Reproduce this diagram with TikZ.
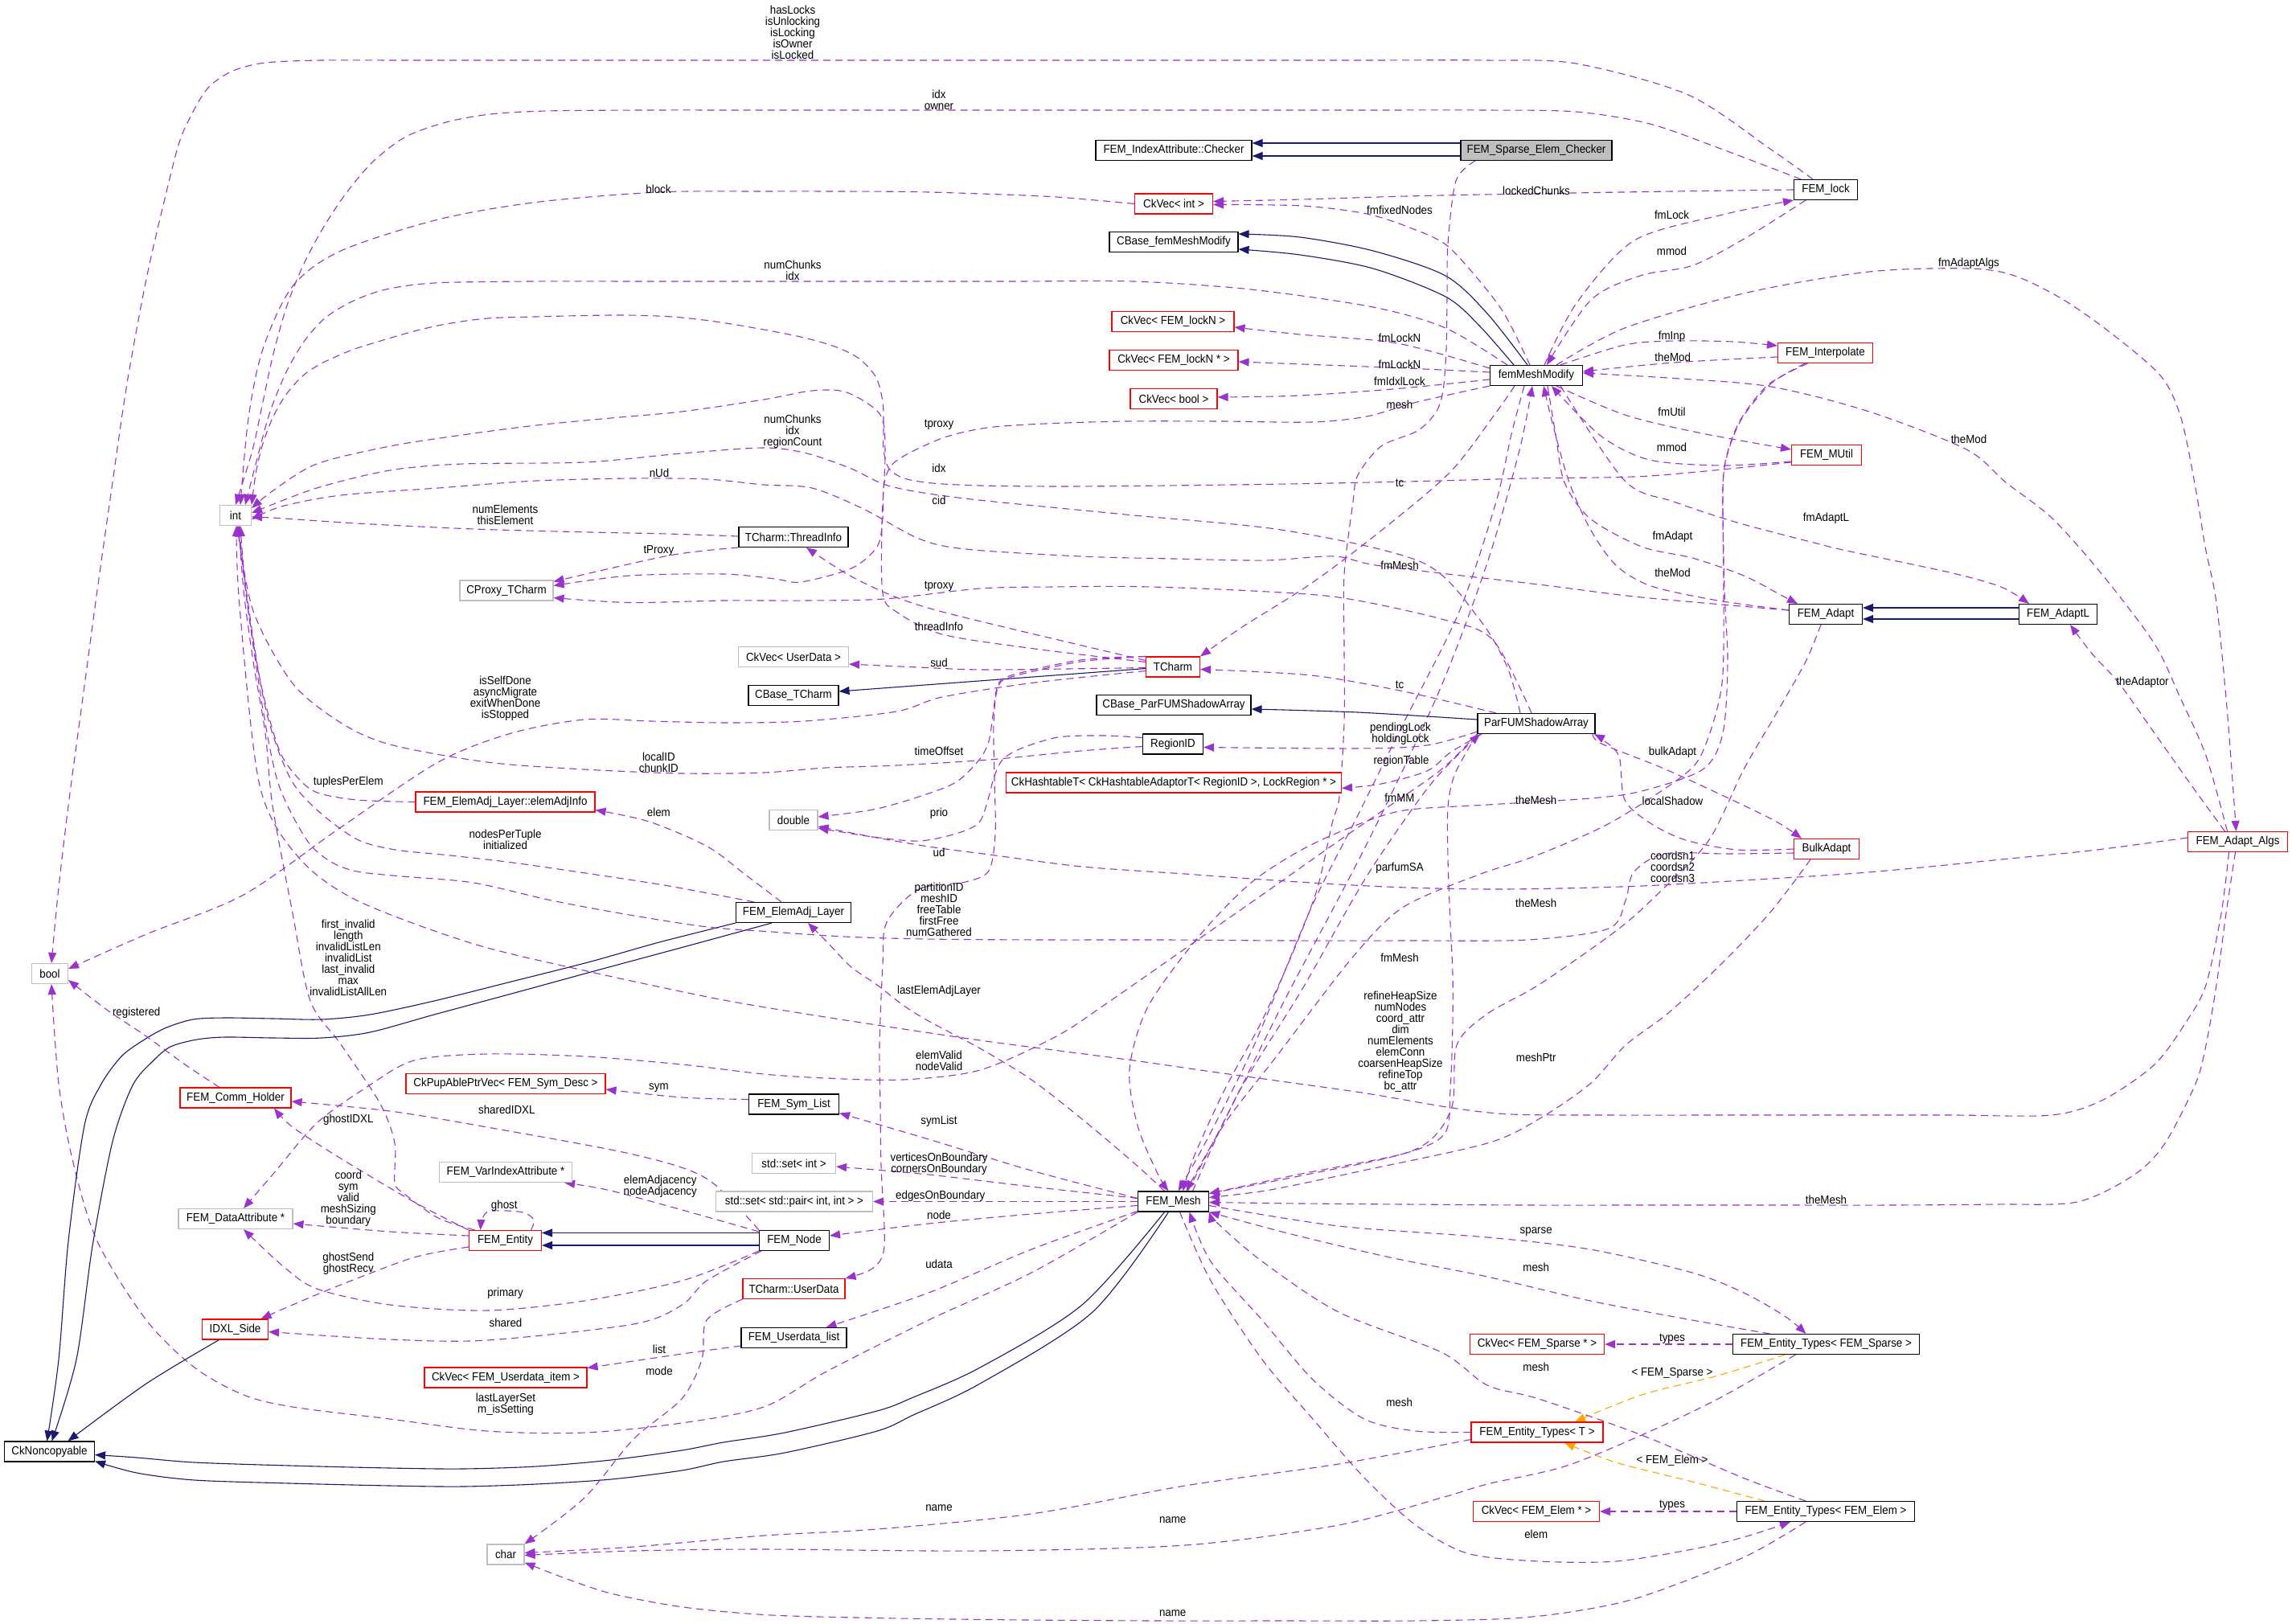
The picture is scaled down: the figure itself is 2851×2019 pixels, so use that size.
\documentclass[tikz,border=0pt]{standalone}
\usepackage{fontspec}
\newfontfamily\dxf{Liberation Sans}[FakeStretch=0.92]
\usetikzlibrary{arrows.meta}
\definecolor{pur}{HTML}{9A32CD}
\definecolor{nav}{HTML}{191970}
\definecolor{org}{HTML}{FFA500}
\definecolor{gry}{HTML}{BFBFBF}
\definecolor{rd}{HTML}{FF0000}
\pgfdeclarelayer{bg}
\pgfsetlayers{bg,main}
\newcommand\dxs{\dxf\fontsize{14.5pt}{14pt}\selectfont}
\begin{document}
\begin{tikzpicture}[x=1pt,y=-1pt,
  box/.style={draw=black, line width=1.1pt, minimum height=25pt, inner sep=0pt, fill=white, font=\dxs},
  rbox/.style={box, draw=rd},
  gbox/.style={box, draw=gry},
  lab/.style={font=\dxs, align=center, inner sep=0pt},
  mem/.style={draw=pur, line width=1.1pt, dash pattern=on 9pt off 6pt, -{Triangle[length=13pt,width=10pt]}},
  inh/.style={draw=nav, line width=1.1pt, -{Triangle[length=13pt,width=10pt]}},
  tpl/.style={draw=org, line width=1.1pt, dash pattern=on 9pt off 6pt, -{Triangle[length=13pt,width=10pt]}}]
\useasboundingbox (0,0) rectangle (2851,2019);
\begin{pgfonlayer}{bg}
\fill[white] (0,0) rectangle (2851,2019);
\end{pgfonlayer}
% ---------------- nodes ----------------
\node[box, minimum width=194pt] (chk) at (1460,187) {FEM\_IndexAttribute::Checker};
\node[box, fill=gry, minimum width=188pt] (root) at (1911,187) {FEM\_Sparse\_Elem\_Checker};
\node[rbox, minimum width=97pt] (ckint) at (1460,253.5) {CkVec< int >};
\node[box, minimum width=160pt] (cbfmm) at (1460,301) {CBase\_femMeshModify};
\node[rbox, minimum width=152pt] (cklockn) at (1459,400) {CkVec< FEM\_lockN >};
\node[rbox, minimum width=160pt] (cklocknp) at (1460,448) {CkVec< FEM\_lockN * >};
\node[rbox, minimum width=108pt] (ckbool) at (1460,496) {CkVec< bool >};
\node[rbox, minimum width=67pt] (tcharm) at (1459,829.5) {TCharm};
\node[box, minimum width=192pt] (cbpfsa) at (1460,877) {CBase\_ParFUMShadowArray};
\node[box, minimum width=75pt] (regid) at (1459,925.5) {RegionID};
\node[rbox, minimum width=417pt] (hash) at (1460,973.5) {CkHashtableT< CkHashtableAdaptorT< RegionID >, LockRegion * >};
\node[box, minimum width=88pt] (mesh) at (1459.5,1494.5) {FEM\_Mesh};
\node[box, minimum width=115pt] (fmm) at (1911,467) {femMeshModify};
\node[box, minimum width=146pt] (pfsa) at (1911,900) {ParFUMShadowArray};
\node[rbox, minimum width=167pt] (cksparse) at (1912,1672) {CkVec< FEM\_Sparse * >};
\node[rbox, minimum width=164pt] (etT) at (1912,1781.5) {FEM\_Entity\_Types< T >};
\node[rbox, minimum width=157pt] (ckelem) at (1911,1880) {CkVec< FEM\_Elem * >};
\node[box, minimum width=79pt] (lock) at (2271,236) {FEM\_lock};
\node[rbox, minimum width=118pt] (interp) at (2270.5,439) {FEM\_Interpolate};
\node[rbox, minimum width=87pt] (mutil) at (2272,566) {FEM\_MUtil};
\node[box, minimum width=91pt] (adapt) at (2271,764) {FEM\_Adapt};
\node[rbox, minimum width=81pt] (bulk) at (2272,1056) {BulkAdapt};
\node[box, minimum width=232pt] (etS) at (2271.5,1672) {FEM\_Entity\_Types< FEM\_Sparse >};
\node[box, minimum width=221pt] (etE) at (2271,1880) {FEM\_Entity\_Types< FEM\_Elem >};
\node[box, minimum width=97pt] (adaptL) at (2560,764) {FEM\_AdaptL};
\node[rbox, minimum width=124pt] (algs) at (2783.5,1047) {FEM\_Adapt\_Algs};
\node[box, minimum width=136pt] (tinfo) at (987,668) {TCharm::ThreadInfo};
\node[gbox, minimum width=137pt] (ckud) at (987,817) {CkVec< UserData >};
\node[box, minimum width=112pt] (cbtc) at (987,865) {CBase\_TCharm};
\node[gbox, minimum width=60pt] (dbl) at (987,1020) {double};
\node[box, minimum width=143pt] (eal) at (987,1135) {FEM\_ElemAdj\_Layer};
\node[box, minimum width=112pt] (symlist) at (987.5,1373.5) {FEM\_Sym\_List};
\node[gbox, minimum width=104pt] (setint) at (987.5,1447) {std::set< int >};
\node[gbox, minimum width=195pt] (setpair) at (988,1494.5) {std::set< std::pair< int, int > >};
\node[box, minimum width=87pt] (fnode) at (988,1543) {FEM\_Node};
\node[rbox, minimum width=127pt] (tud) at (987.5,1603) {TCharm::UserData};
\node[box, minimum width=131pt] (udl) at (987.5,1664) {FEM\_Userdata\_list};
\node[gbox, minimum width=116pt] (cproxy) at (630,734.5) {CProxy\_TCharm};
\node[rbox, minimum width=223pt] (eai) at (628.5,997.5) {FEM\_ElemAdj\_Layer::elemAdjInfo};
\node[rbox, minimum width=248pt] (pup) at (629,1348) {CkPupAblePtrVec< FEM\_Sym\_Desc >};
\node[gbox, minimum width=165pt] (varidx) at (629,1458) {FEM\_VarIndexAttribute *};
\node[rbox, minimum width=90pt] (entity) at (628.5,1543) {FEM\_Entity};
\node[rbox, minimum width=202pt] (ckudi) at (629,1713.5) {CkVec< FEM\_Userdata\_item >};
\node[gbox, minimum width=46pt] (chr) at (629,1933.5) {char};
\node[gbox, minimum width=39pt] (int) at (293,641) {int};
\node[rbox, minimum width=138pt] (comm) at (293,1365.5) {FEM\_Comm\_Holder};
\node[gbox, minimum width=142pt] (dattr) at (293,1516) {FEM\_DataAttribute *};
\node[rbox, minimum width=82pt] (idxl) at (292.5,1653.5) {IDXL\_Side};
\node[gbox, minimum width=45pt] (bool) at (62,1211) {bool};
\node[box, minimum width=112pt] (nonc) at (61.5,1805.5) {CkNoncopyable};
% ---------------- labels ----------------
\node[lab] (t1) at (986,40.5) {hasLocks\\isUnlocking\\isLocking\\isOwner\\isLocked};
\node[lab] (t2) at (1168,124) {idx\\owner};
\node[lab] (t3) at (1911,237) {lockedChunks};
\node[lab] (t4) at (1741,261) {fmfixedNodes};
\node[lab] (t5) at (819,235) {block};
\node[lab] (t6) at (986,336.5) {numChunks\\idx};
\node[lab] (t7) at (1741,420) {fmLockN};
\node[lab] (t8) at (1741,453) {fmLockN};
\node[lab] (t9) at (1741,474.5) {fmIdxlLock};
\node[lab] (t10) at (1741,503) {mesh};
\node[lab] (t11) at (1168,528) {tproxy};
\node[lab] (t12) at (986,537) {numChunks\\idx\\regionCount};
\node[lab] (t13) at (1168,582.5) {idx};
\node[lab] (t14) at (820,588) {nUd};
\node[lab] (t15) at (1741,600.5) {tc};
\node[lab] (t16) at (1168,622.7) {cid};
\node[lab] (t17) at (628.5,640.5) {numElements\\thisElement};
\node[lab] (t18) at (819.4,685) {tProxy};
\node[lab] (t19) at (1741,703) {fmMesh};
\node[lab] (t20) at (1168,729) {tproxy};
\node[lab] (t21) at (1168,779.5) {threadInfo};
\node[lab] (t22) at (1168,824) {sud};
\node[lab] (t23) at (1741,852) {tc};
\node[lab] (t24) at (628.5,868.5) {isSelfDone\\asyncMigrate\\exitWhenDone\\isStopped};
\node[lab] (t25) at (1742,913) {pendingLock\\holdingLock};
\node[lab] (t26) at (1168,934.4) {timeOffset};
\node[lab] (t27) at (819.4,948.5) {localID\\chunkID};
\node[lab] (t28) at (1743,947) {regionTable};
\node[lab] (t29) at (433.3,972.3) {tuplesPerElem};
\node[lab] (t30) at (1741,992.4) {fmMM};
\node[lab] (t31) at (819.4,1010.7) {elem};
\node[lab] (t32) at (1168,1011.6) {prio};
\node[lab] (t33) at (628.5,1044.4) {nodesPerTuple\\initialized};
\node[lab] (t34) at (1168,1060.7) {ud};
\node[lab] (t35) at (1741,1079.5) {parfumSA};
\node[lab] (t36) at (1168,1131.5) {partitionID\\meshID\\freeTable\\firstFree\\numGathered};
\node[lab] (t37) at (433.3,1191.5) {first\_invalid\\length\\invalidListLen\\invalidList\\last\_invalid\\max\\invalidListAllLen};
\node[lab] (t38) at (1741,1191.5) {fmMesh};
\node[lab] (t39) at (1168,1232.6) {lastElemAdjLayer};
\node[lab] (t40) at (1742,1296) {refineHeapSize\\numNodes\\coord\_attr\\dim\\numElements\\elemConn\\coarsenHeapSize\\refineTop\\bc\_attr};
\node[lab] (t41) at (169.7,1259.8) {registered};
\node[lab] (t42) at (1168,1319.7) {elemValid\\nodeValid};
\node[lab] (t43) at (819.4,1353) {sym};
\node[lab] (t44) at (630.3,1380.5) {sharedIDXL};
\node[lab] (t45) at (433.3,1392.7) {ghostIDXL};
\node[lab] (t46) at (1168,1394.7) {symList};
\node[lab] (t47) at (1168,1447.3) {verticesOnBoundary\\cornersOnBoundary};
\node[lab] (t48) at (433.3,1490.6) {coord\\sym\\valid\\meshSizing\\boundary};
\node[lab] (t49) at (821.2,1475.6) {elemAdjacency\\nodeAdjacency};
\node[lab] (t50) at (1169.8,1487.4) {edgesOnBoundary};
\node[lab] (t51) at (627.3,1499.6) {ghost};
\node[lab] (t52) at (1168,1511.4) {node};
\node[lab] (t53) at (433.3,1571.5) {ghostSend\\ghostRecv};
\node[lab] (t54) at (1168,1572) {udata};
\node[lab] (t55) at (628.5,1609) {primary};
\node[lab] (t56) at (629,1644.8) {shared};
\node[lab] (t57) at (820,1678.6) {list};
\node[lab] (t58) at (820,1705) {mode};
\node[lab] (t59) at (629,1746.6) {lastLayerSet\\m\_isSetting};
\node[lab] (t60) at (1168,1875.8) {name};
\node[lab] (t61) at (1458.7,1891) {name};
\node[lab] (t62) at (1458.7,2006.7) {name};
\node[lab] (t63) at (1740.6,1744.4) {mesh};
\node[lab] (t64) at (2079.5,267.6) {fmLock};
\node[lab] (t65) at (2079.5,312.7) {mmod};
\node[lab] (t66) at (2449,327.8) {fmAdaptAlgs};
\node[lab] (t67) at (2079.5,419) {fmInp};
\node[lab] (t68) at (2080.7,444.5) {theMod};
\node[lab] (t69) at (2079.5,512.6) {fmUtil};
\node[lab] (t70) at (2449,546.4) {theMod};
\node[lab] (t71) at (2079.5,556.4) {mmod};
\node[lab] (t72) at (2271.5,644.6) {fmAdaptL};
\node[lab] (t73) at (2080.5,668) {fmAdapt};
\node[lab] (t74) at (2080.5,712.5) {theMod};
\node[lab] (t75) at (2665,848.7) {theAdaptor};
\node[lab] (t76) at (2080.5,935.7) {bulkAdapt};
\node[lab] (t77) at (1910.7,995.5) {theMesh};
\node[lab] (t78) at (2080.5,996.4) {localShadow};
\node[lab] (t79) at (2080.5,1078) {coordsn1\\coordsn2\\coordsn3};
\node[lab] (t80) at (1910.7,1123.7) {theMesh};
\node[lab] (t81) at (1910.7,1315) {meshPtr};
\node[lab] (t82) at (2271.5,1492) {theMesh};
\node[lab] (t83) at (1910.7,1532) {sparse};
\node[lab] (t84) at (1910.7,1576.6) {mesh};
\node[lab] (t85) at (2080,1665) {types};
\node[lab] (t86) at (2080,1707.6) {< FEM\_Sparse >};
\node[lab] (t87) at (1910.7,1700.7) {mesh};
\node[lab] (t88) at (2080,1816.5) {< FEM\_Elem >};
\node[lab] (t89) at (2080,1872) {types};
\node[lab] (t90) at (1910.7,1908.6) {elem};
% ---------------- edges ----------------
\begin{pgfonlayer}{bg}
\draw[mem] plot[smooth] coordinates {([xshift=-16pt]lock.north) (2203,186) (2100,118) (1960,79) (1850,75) (1700,75) (1550,75) (1400,75) (1250,75) (1100,75) (950,75) (800,75) (650,75) (500,75) (400,75) (330,78) (290,88) (262,106) (245,130) (224,174) (206,243) (182,347) (158,477) (139,607) (121,734) (103,868) (85,1002) (72,1113) ([xshift=2pt]bool.north)};
\draw[mem] plot[smooth] coordinates {([xshift=-31pt]lock.north) (2143,186) (2052,154) (1960,139) (1850,137) (1700,137) (1550,137) (1400,137) (1250,137) (1100,137) (950,137) (800,137) (680,138) (610,142) (555,152) (505,170) (465,200) (433,237) (404,280) (378,328) (357,380) (340,440) (327,500) (314,560) (int.north)};
\draw[inh] ([yshift=9pt]root.west) -- ([yshift=9pt]chk.east);
\draw[inh] ([yshift=-7pt]root.west) -- ([yshift=-7pt]chk.east);
\draw[mem] plot[smooth] coordinates {(lock.west) (2080,238) (1900,241) (1750,244) (1620,248) ([yshift=3pt]ckint.east)};
\draw[mem] plot[smooth] coordinates {([xshift=-8pt]fmm.north) (1871,390) (1835,343) (1798,304) (1756,284) (1700,266) (1620,256) ([yshift=-1pt]ckint.east)};
\draw[mem] plot[smooth] coordinates {(ckint.west) (1314,245) (1220,241) (1132,238.5) (1040,238) (950,238) (819,239) (667,251.5) (545,273) (424,312) (364,356) (327,434) (309,520) ([xshift=6pt]int.north)};
\draw[inh] plot[smooth] coordinates {([xshift=-11pt]fmm.north) (1850,390) (1798,343) (1708,312) (1617,295) ([yshift=10pt]cbfmm.east)};
\draw[inh] plot[smooth] coordinates {([xshift=-28pt]fmm.north) (1840,405) (1798,369) (1708,334) (1617,317) ([yshift=-9pt]cbfmm.east)};
\draw[mem] plot[smooth] coordinates {([xshift=-36pt]fmm.north) (1798,408) (1708,382) (1556,360) (1410,350) (1260,350) (1110,350) (960,350) (810,350) (660,350) (540,352) (480,360) (440,374) (405,395) (378,425) (355,465) (335,515) (320,570) ([xshift=12pt]int.north)};
\draw[mem] plot[smooth] coordinates {([yshift=9pt]fmm.west) (1738,427) (1617,416) ([yshift=-7pt]cklockn.east)};
\draw[mem] plot[smooth] coordinates {([yshift=4pt]fmm.west) (1738,457.5) ([yshift=-2pt]cklocknp.east)};
\draw[mem] plot[smooth] coordinates {([yshift=-5pt]fmm.west) (1738,483.5) (1617,492) ([yshift=2pt]ckbool.east)};
\draw[mem] plot[smooth] coordinates {([xshift=10pt]fmm.north) (1961,377) (2033,299) (2143,267) (lock.south west)};
\draw[mem] plot[smooth] coordinates {([xshift=-25pt]lock.south) (2173,295) (2106,330) (2040,343) (1979,373) ([xshift=13pt]fmm.north)};
\draw[mem] plot[smooth] coordinates {([xshift=25pt]fmm.north) (2021,408) (2173,364) (2325,338) (2449,334) (2506,343) (2567,373) (2628,416) (2688,468) (2713,520) (2731,607) (2743,680) (2757,750) (2770,880) ([xshift=-2pt]algs.north)};
\draw[mem] plot[smooth] coordinates {([xshift=-13pt]algs.north) (2744,940) (2712,868) (2680,801) (2616,716) (2553,645) (2495,600) (2446,559) (2325,512) (2203,481) (2082,470.5) ([yshift=3pt]fmm.east)};
\draw[mem] plot[smooth] coordinates {([xshift=30pt]fmm.north) (2021,429) (2082,424) (2155,425) ([yshift=9pt]interp.west)};
\draw[mem] plot[smooth] coordinates {([yshift=-5pt]interp.west) (2082,451) ([yshift=5pt]fmm.east)};
\draw[mem] plot[smooth] coordinates {([xshift=25pt]fmm.south) (2021,516) (2112,538) ([yshift=7pt]mutil.west)};
\draw[mem] plot[smooth] coordinates {([yshift=-8pt]mutil.west) (2143,579) (2052,572) (1991,542) ([xshift=19pt]fmm.south)};
\draw[mem] plot[smooth] coordinates {([yshift=-9pt]mutil.west) (2052,592) (1900,595) (1750,599) (1600,602) (1450,604) (1320,605) (1220,604) (1160,601) (1125,595) (1106,583) (1099,560) (1099,530) (1098,500) (1090,470) (1070,447) (1041,432) (1000,420) (950,410) (890,400) (836,394) (780,392) (727,392.5) (666,394) (606,396) (555,403) (515,412) (470,425) (436,436) (400,452) (376,468) (355,492) (339,520) (326,555) (318,590) (int.north east)};
\draw[mem] plot[smooth] coordinates {([xshift=-76pt]root.south) (1811,225) (1801,304) (1800,370) (1799,434) (1795,486) (1786,513) (1763,536) (1718,555) (1689,591) (1683,624) (1672,715) (1672,807) (1672,899) (1666,991) (1657,1024) (1638,1107) (1606,1190) (1568,1273) (1523,1356) (1485,1439) ([xshift=12pt]mesh.north)};
\draw[mem] plot[smooth] coordinates {(fmm.south west) (1763,500) (1700,518) (1632,525) (1520,524) (1400,524) (1300,527) (1228,532) (1172,545) (1115,573) (1100,600) (1098,645) (1091,680) (1059,707) (996,724) (964,720) (900,714) (783,716) ([yshift=6pt]cproxy.east)};
\draw[mem] plot[smooth] coordinates {([xshift=-27pt]fmm.south) (1861,513) (1804,587) (1718,660) (1632,725) (1545,780) (tcharm.north east)};
\draw[mem] plot[smooth] coordinates {([xshift=-15pt]fmm.south) (1880,540) (1861,624) (1815,761) (1746,899) (1689,1014) (1631,1129) (1560,1300) (1500,1420) ([xshift=6pt]mesh.north)};
\draw[mem] plot[smooth] coordinates {([xshift=18pt]mesh.north) (1530,1380) (1600,1240) (1700,1050) (1790,860) (1850,700) (1890,560) ([xshift=-5pt]fmm.south)};
\draw[mem] plot[smooth] coordinates {([xshift=14pt]fmm.south) (1935,540) (1946,600) (1978,645) (2042,680) (2105,694) (2169,716) (2215,740) ([xshift=-35pt]adapt.north)};
\draw[mem] plot[smooth] coordinates {([yshift=5pt]adapt.west) (2137,747) (2054,729) (2010,703) (1978,658) (1952,600) (1932,530) ([xshift=9pt]fmm.south)};
\draw[mem] plot[smooth] coordinates {([xshift=30pt]fmm.south) (2021,598) (2082,624) (2161,650) (2264,677) (2297,685) (2425,712) (2489,730) ([xshift=-36pt]adaptL.north)};
\draw[inh] ([yshift=8pt]adaptL.west) -- ([yshift=8pt]adapt.east);
\draw[inh] ([yshift=-6pt]adaptL.west) -- ([yshift=-6pt]adapt.east);
\draw[mem] plot[smooth] coordinates {([xshift=-16pt]algs.north) (2731,984) (2680,912) (2636,850) (2603,814) ([xshift=15pt]adaptL.south)};
\draw[mem] plot[smooth] coordinates {([xshift=-6pt]adapt.south) (2246,823) (2208,890) (2169,957) (2125,1046) (2061,1113) (2010,1158) (1914,1225) (1850,1261) (1812,1300) (1805,1380) (1760,1430) (1620,1462) ([yshift=10pt]mesh.east)};
\draw[mem] plot[smooth] coordinates {([xshift=-25pt]interp.south) (2203,477) (2167,520) (2149,564) (2143,607) (2144,734) (2142,850) (2122,925) (2097,962) (2002,1024) (1906,1066) (1842,1087) (1746,1128) (1683,1190) (1587,1315) (1523,1398) ([xshift=16pt]mesh.north)};
\draw[mem] plot[smooth] coordinates {([xshift=-22pt]interp.south) (2200,478) (2165,522) (2148,566) (2143,610) (2145,734) (2149,823) (2143,912) (2118,957) (2042,984) (1978,993) (1850,1001) (1746,1008) (1683,1028) (1619,1057) (1555,1099) (1491,1165) (1428,1252) (1405,1330) (1415,1400) (1440,1460) ([xshift=-6pt]mesh.north)};
\draw[mem] plot[smooth] coordinates {([xshift=-20pt]bulk.south) (2201,1136) (2137,1203) (2074,1261) (2022,1300) (1978,1348) (1914,1392) (1850,1422) (1700,1455) (1580,1480) ([yshift=5pt]mesh.east)};
\draw[mem] plot[smooth] coordinates {(pfsa.south west) (1810,962) (1801,1004) (1801,1066) (1804,1149) (1807,1211) (1807,1273) (1804,1356) (1797,1410) (1746,1435) (1619,1460) ([yshift=10pt]mesh.east)};
\draw[mem] plot[smooth] coordinates {([xshift=-3pt]algs.south) (2769,1136) (2757,1225) (2744,1300) (2731,1348) (2693,1422) (2655,1461) (2584,1495) (2480,1498) (2350,1499) (2200,1499) (2050,1499) (1900,1499) (1750,1498) (1620,1497) ([yshift=-1pt]mesh.east)};
\draw[mem] plot[smooth] coordinates {([xshift=-70pt]etS.north) (2105,1642) (1978,1618) (1850,1588) (1729,1564) (1602,1534) (mesh.south east)};
\draw[mem] plot[smooth] coordinates {([xshift=-25pt]etE.north) (2169,1838.5) (2042,1785) (1914,1740) (1850,1723) (1793,1682) (1665,1632) (1570,1569) (1515,1522) (mesh.south east)};
\draw[mem] plot[smooth] coordinates {(etT.west) (1761,1780) (1697,1765) (1633,1716) (1570,1642) (1506,1569) ([xshift=20pt]mesh.south)};
\draw[mem] plot[smooth] coordinates {([xshift=24pt]mesh.north) (1540,1360) (1620,1230) (1700,1090) (1780,975) ([xshift=-70pt]pfsa.south)};
\draw[mem] plot[smooth] coordinates {([xshift=-11pt]mesh.north) (1410,1446) (1346,1392) (1283,1343) (1219,1304) (1155,1270) (1123,1250) (1091,1225) (1059,1203) (1028,1171) ([xshift=18pt]eal.south)};
\draw[mem] plot[smooth] coordinates {([yshift=4pt]mesh.west) (1283,1456) (1155,1417) ([yshift=-11pt]symlist.east)};
\draw[mem] plot[smooth] coordinates {([yshift=4pt]mesh.west) (1283,1476) (1155,1461) ([yshift=-4pt]setint.east)};
\draw[mem] (mesh.west) -- (setpair.east);
\draw[mem] plot[smooth] coordinates {([yshift=-5pt]mesh.west) (1283,1510) (1155,1522) ([yshift=6pt]fnode.east)};
\draw[mem] plot[smooth] coordinates {([yshift=-12pt]mesh.west) (1283,1554) (1155,1608) ([xshift=40pt]udl.north)};
\draw[mem] plot[smooth] coordinates {(mesh.south west) (1283,1583) (1155,1642) (1028,1706) (950,1750) (848,1770) (727,1782) (606,1780) (485,1765) (364,1750) (303,1735) (242,1701) (182,1642) (121,1544) (91,1446) (73,1348) ([xshift=2pt]bool.south)};
\draw[inh] plot[smooth] coordinates {([xshift=-11pt]mesh.south) (1346,1623) (1219,1701) (1136,1738) (1091,1755) (976,1782) (900,1794) (848,1804) (760,1816) (667,1824) (575,1827) (485,1826) (360,1823) (242,1819) (170,1813) ([yshift=-4pt]nonc.east)};
\draw[inh] plot[smooth] coordinates {([xshift=-6pt]mesh.south) (1359,1632) (1219,1721) (1136,1760) (1091,1780) (976,1807) (900,1818) (848,1829) (760,1840) (667,1846) (575,1849) (485,1848) (360,1845) (242,1841) (170,1832) ([yshift=-12pt]nonc.east)};
\draw[mem] plot[smooth] coordinates {([xshift=8pt]mesh.south) (1506,1593) (1570,1691) (1633,1765) (1697,1838) (1761,1897) (1825,1932) (1914,1942) (2010,1942) (2105,1927) (2169,1912) ([xshift=-44pt]etE.south)};
\draw[mem] plot[smooth] coordinates {([yshift=-5pt]mesh.east) (1665,1525) (1850,1539) (1978,1554) (2105,1583) (2169,1608) (2220,1637) ([xshift=-25pt]etS.north)};
\draw[mem] (etS.west) -- (cksparse.east);
\draw[mem] (etE.west) -- (ckelem.east);
\draw[tpl] plot[smooth] coordinates {([xshift=-51pt]etS.south) (2137,1711) (2042,1735) ([xshift=47pt]etT.north)};
\draw[tpl] plot[smooth] coordinates {([xshift=-76pt]etE.north) (2105,1843) (2010,1819) ([xshift=34pt]etT.south)};
\draw[mem] plot[smooth] coordinates {([yshift=-9pt]etT.west) (1665,1821) (1474,1848) (1283,1883) (1091,1902) (950,1910) (788,1924) ([yshift=2pt]chr.east)};
\draw[mem] plot[smooth] coordinates {([xshift=-38pt]etS.south) (2137,1740) (2042,1785) (1946,1824) (1850,1846) (1793,1863) (1665,1897) (1474,1922) (1219,1929) (950,1927) (788,1929) ([yshift=-1pt]chr.east)};
\draw[mem] plot[smooth] coordinates {([xshift=-25pt]etE.south) (2169,1937) (2042,1986) (1960,2004) (1880,2013) (1760,2016) (1600,2016) (1440,2016) (1280,2015) (1120,2013) (960,2009) (850,1999) (760,1982) (700,1962) ([yshift=-10pt]chr.east)};
\draw[mem] plot[smooth] coordinates {(tud.south west) (879,1642) (873,1691) (848,1740) (788,1790) (727,1863) (chr.north east)};
\draw[mem] plot[smooth] coordinates {([yshift=-10pt]udl.west) (848.5,1684) ([yshift=12pt]ckudi.east)};
\draw[mem] plot[smooth] coordinates {([yshift=6pt]symlist.west) (848.5,1365) ([yshift=-7pt]pup.east)};
\draw[inh] ([yshift=9.5pt]fnode.west) -- ([yshift=9.5pt]entity.east);
\draw[inh] ([yshift=-6pt]fnode.west) -- ([yshift=-6pt]entity.east);
\draw[mem] plot[smooth] coordinates {(fnode.north west) (879,1466) (788,1436) (606,1402) (485,1382) ([yshift=-4.5pt]comm.east)};
\draw[mem] plot[smooth] coordinates {([yshift=-2pt]fnode.north west) (848.5,1505) (757.6,1480.5) ([xshift=-10pt]varidx.south east)};
\draw[mem] plot[smooth] coordinates {(fnode.south west) (848.5,1593) (727,1618) (606,1630) (485,1623) (394,1603) (351,1574) ([xshift=10pt]dattr.south)};
\draw[mem] plot[smooth] coordinates {([xshift=3pt]fnode.south west) (879,1593) (848.5,1623) (788,1647) (606,1667) (485,1666) ([yshift=-3pt]idxl.east)};
\draw[mem] plot[smooth] coordinates {(entity.north west) (515,1495) (424,1441) (364,1402) ([xshift=48pt]comm.south)};
\draw[mem] plot[smooth] coordinates {([yshift=6pt]entity.west) (485,1532) ([yshift=-6pt]dattr.east)};
\draw[mem] plot[smooth] coordinates {([xshift=32pt]entity.north) (664,1517) (648,1507.5) (606,1507.5) ([xshift=-31pt]entity.north)};
\draw[mem] plot[smooth] coordinates {([yshift=-8pt]entity.west) (515,1564) (424,1598) (364,1623) ([xshift=32pt]idxl.north)};
\draw[mem] plot[smooth] coordinates {([xshift=-38pt]entity.north) (545,1515) (503,1485) (491,1471) (491,1422) (473,1373) (424,1299) (386,1245) (364,1136) (339,1002) (330,912) (315,823) (303,734) ([xshift=4pt]int.south)};
\draw[inh] plot[smooth] coordinates {([xshift=-20pt]idxl.south) (182,1721) ([xshift=23pt]nonc.north)};
\draw[inh] plot[smooth] coordinates {(eal.south west) (820,1172) (735,1196) (640,1220) (540,1245) (460,1262) (400,1268) (340,1267) (280,1266) (240,1268) (205,1279) (175,1296) (150,1315) (125,1350) (105,1400) (85,1544) (73,1691) ([xshift=-3pt]nonc.north)};
\draw[inh] plot[smooth] coordinates {([xshift=-27pt]eal.south) (850,1178) (735,1209) (640,1235) (540,1262) (460,1284) (400,1291) (340,1291) (280,1290) (245,1293) (212,1302) (190,1320) (165,1350) (140,1420) (115,1550) (95,1691) ([xshift=3pt]nonc.north)};
\draw[mem] plot[smooth] coordinates {([xshift=-20pt]comm.north) (230,1324) (182,1289) (133,1256) ([yshift=-8pt]bool.east)};
\draw[mem] plot[smooth] coordinates {([xshift=-15pt]eal.north) (928.6,1089) (880,1053) (807.5,1022) ([yshift=-10pt]eai.east)};
\draw[mem] plot[smooth] coordinates {(eai.west) (444,995) (395,986) (371,968) (347,932) (323,843) (303,709) ([xshift=5pt]int.south)};
\draw[mem] plot[smooth] coordinates {([xshift=-49pt]eal.north) (832,1102) (735,1087) (638,1073) (560,1064) (492,1057) (444,1044) (395,1008) (361,968) (332,888) (308,754) ([xshift=6pt]int.south)};
\draw[mem] plot[smooth] coordinates {([yshift=1pt]tinfo.west) (830,664) (735,662) (589,658) (444,651) (347,644.5) ([yshift=-2pt]int.east)};
\draw[mem] plot[smooth] coordinates {(tinfo.south west) (832,691) ([yshift=11pt]cproxy.east)};
\draw[mem] plot[smooth] coordinates {([yshift=8pt]tcharm.west) (1287,789) (1172,761) (1115,743) (1057,716) ([xshift=16pt]tinfo.south)};
\draw[mem] plot[smooth] coordinates {([yshift=-1pt]tcharm.west) (1230,833) (1143,830) ([yshift=-9pt]ckud.east)};
\draw[inh] ([yshift=-2pt]tcharm.west) -- ([yshift=5pt]cbtc.east);
\draw[mem] plot[smooth] coordinates {([yshift=-5pt]tcharm.west) (1287,849) (1172,867) (1115,885) (1000,897) (900,899) (810,897) (727,895) (636,912) (545,948) (424,1029) (303,1113) (182,1162) ([yshift=6pt]bool.east)};
\draw[mem] plot[smooth] coordinates {(tcharm.north west) (1344,821) (1258,840) (1241,853) (1235,890) (1230,922) (1218,945) (1189,973) (1143,991) (1086,1007) ([yshift=4pt]dbl.east)};
\draw[mem] plot[smooth] coordinates {(tcharm.north west) (1344,823) (1258,842) (1241,856) (1236,900) (1237,970) (1238,1037) (1230,1083) (1201,1097) (1143,1106) (1103,1147) (1098,1200) (1094,1300) (1095,1375) (1096,1450) (1100,1550) (1085,1578) (tud.north east)};
\draw[mem] plot[smooth] coordinates {([yshift=6pt]tcharm.west) (1287,807) (1172,789) (1115,761) (1098,738) (1097,650) (1101,564) (1095,516) (1053,488) (1010,486) (950,497) (848,512) (760,520) (667,529) (575,541) (485,555) (394,577) (340,610) ([yshift=9pt]int.east)};
\draw[mem] plot[smooth] coordinates {([yshift=-3pt]regid.west) (1344,934) (1230,945) (1115,952) (1027,955) (950,961) (848,962) (727,957) (606,948) (485,926) (424,899) (364,850) (315,760) ([xshift=2pt]int.south)};
\draw[mem] plot[smooth] coordinates {([yshift=8pt]regid.west) (1373,915) (1316,917) (1270,931) (1247,945) (1236,968) (1230,991) (1218,1023) (1189,1037) (1143,1046) (1086,1041) ([yshift=-10pt]dbl.east)};
\draw[mem] plot[smooth] coordinates {([yshift=5pt]algs.west) (2600,1058) (2489,1069) (2390,1079) (2297,1087) (2169,1095) (2042,1102) (1940,1105) (1850,1106) (1750,1104) (1665,1100) (1570,1094) (1474,1087) (1346,1078) (1238,1064) (1155,1053) (1091,1042) ([yshift=-8pt]dbl.east)};
\draw[inh] plot[smooth] coordinates {([yshift=5pt]pfsa.west) (1689,886) ([yshift=-5pt]cbpfsa.east)};
\draw[mem] plot[smooth] coordinates {([xshift=-50pt]pfsa.north) (1746,860) (1631,840) ([yshift=-3pt]tcharm.east)};
\draw[mem] plot[smooth] coordinates {([yshift=-10pt]pfsa.west) (1775,927) (1689,931) ([yshift=-4pt]regid.east)};
\draw[mem] plot[smooth] coordinates {([xshift=-68pt]pfsa.south) (1804,936) (1775,959) (1718,975) ([yshift=-7pt]hash.east)};
\draw[mem] plot[smooth] coordinates {([xshift=-6pt]pfsa.north) (1857,796) (1793,770) (1665,743) (1538,734) (1410,729.5) (1310,730) (1219,732) (1100,745) (1000,747) (900,747) (783,749.5) ([yshift=-9pt]cproxy.east)};
\draw[mem] plot[smooth] coordinates {([xshift=-20pt]pfsa.north) (1875,830) (1840,770) (1770,700) (1600,660) (1400,640) (1200,620) (1108,605) (1059,583) (1004,564) (950,557) (848,564) (727,575) (576,577) (485,585) (394,607) ([yshift=3pt]int.east)};
\draw[mem] plot[smooth] coordinates {([yshift=5pt]adapt.west) (2042,743) (1914,727) (1718,704) (1660,692) (1574,697) (1460,695) (1344,692) (1201,683) (1143,670) (1074,633) (1010,607) (950,603) (879,596) (788,595) (667,598) (545,607) (424,616) (350,630) ([yshift=-5pt]int.east)};
\draw[mem] plot[smooth] coordinates {([xshift=70pt]pfsa.south) (1992,925) (2065,954) (2129,983) (2206,1020) ([xshift=-31pt]bulk.north)};
\draw[mem] plot[smooth] coordinates {(bulk.west) (2161,1057) (2097,1045) (2053,1024) (2021,995) (2014,941) (1995,921) ([xshift=72pt]pfsa.south)};
\draw[mem] plot[smooth] coordinates {([yshift=-5pt]bulk.west) (2150,1062) (2070,1062) (2032,1085) (2022,1120) (2001,1155) (1900,1169) (1750,1170) (1600,1170) (1450,1169) (1300,1169) (1150,1168) (1050,1165) (960,1159) (880,1153) (783,1138) (686,1120) (589,1098) (500,1090) (444,1084) (410,1071) (381,1044) (347,977) (328,888) (308,754) ([xshift=3pt]int.south)};
\draw[mem] plot[smooth] coordinates {([xshift=-11pt]algs.south) (2763,1136) (2744,1225) (2720,1270) (2680,1324) (2616,1368) (2552,1387) (2430,1387) (2300,1387) (2150,1387) (2000,1387) (1880,1386) (1806,1378) (1700,1360) (1601,1346) (1500,1332) (1410,1319) (1310,1306) (1219,1294) (1091,1275) (964,1255) (880,1240) (735,1209) (589,1174) (444,1120) (371,1066) (323,977) (298,754) ([xshift=1pt]int.south)};
\draw[mem] plot[smooth] coordinates {(pfsa.south west) (1793,957) (1729,1002) (1665,1046) (1570,1113) (1474,1180) (1378,1247) (1314,1289) (1219,1331) (1123,1343) (1027,1341) (950,1336) (848,1324) (727,1314) (606,1311) (515,1319) (455,1353) (394,1397) (340,1460) ([xshift=10pt]dattr.north)};
\end{pgfonlayer}
\end{tikzpicture}
\end{document}
